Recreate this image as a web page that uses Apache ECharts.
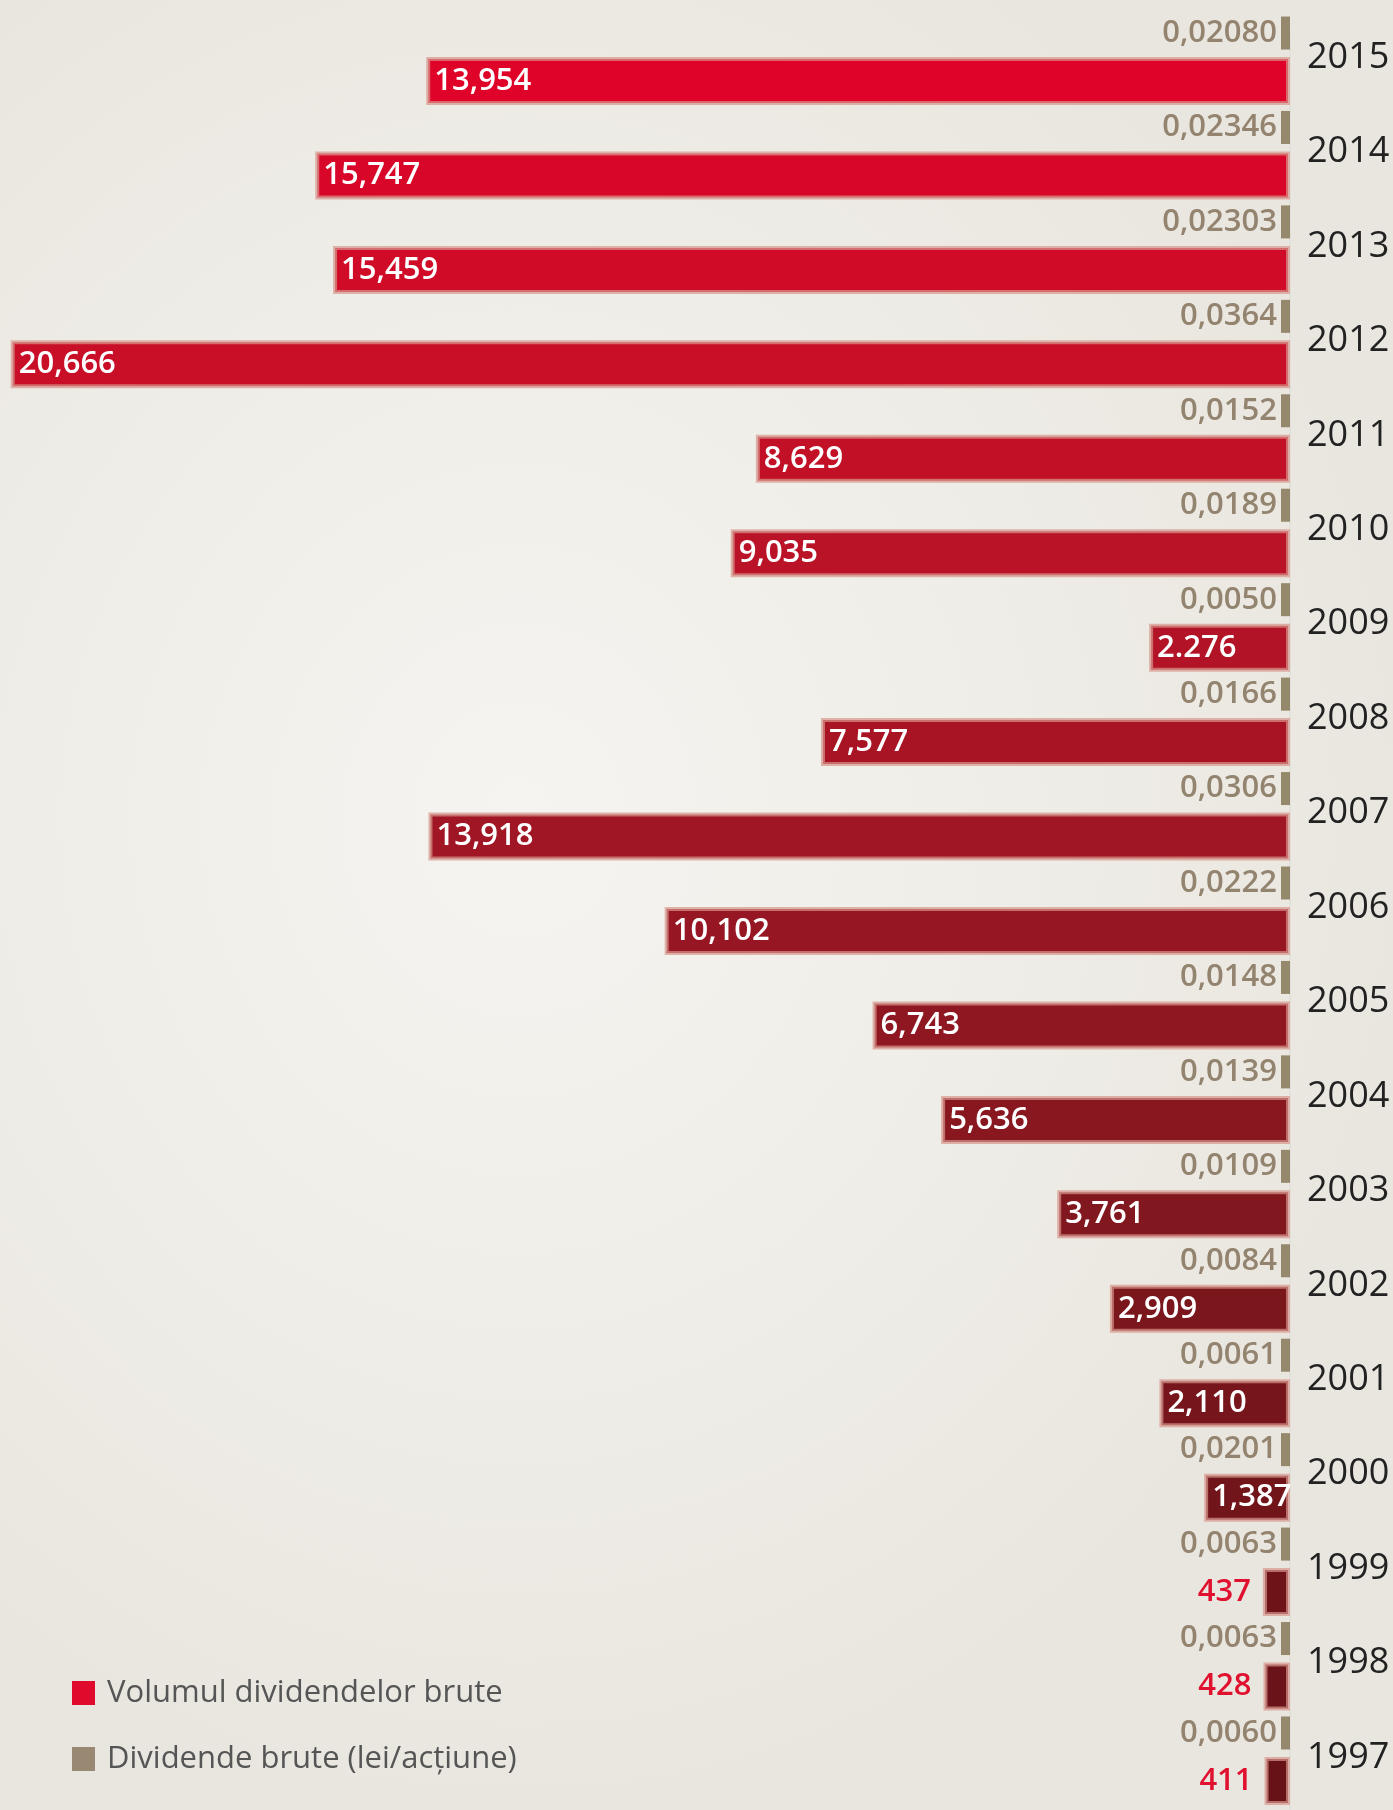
<!DOCTYPE html>
<html>
<head>
<meta charset="utf-8">
<script src="https://cdn.jsdelivr.net/npm/echarts@6/dist/echarts.min.js"></script>
<style>
  html, body {
    margin: 0;
    padding: 0;
  }
  body {
    width: 1393px;
    height: 1810px;
    background: radial-gradient(ellipse 900px 1000px at 520px 820px, #f5f4f0 0%, #efede7 55%, #e9e6df 100%);
  }
  #chart {
    width: 1393px;
    height: 1810px;
  }
</style>
</head>
<body>
<div id="chart"></div>
<script>
  // date, de sus in jos
  const years = ['2015', '2014', '2013', '2012', '2011', '2010', '2009', '2008', '2007', '2006',
    '2005', '2004', '2003', '2002', '2001', '2000', '1999', '1998', '1997']
  const volumes = [13954, 15747, 15459, 20666, 8629, 9035, 2276, 7577, 13918, 10102,
    6743, 5636, 3761, 2909, 2110, 1387, 437, 428, 411]
  const volumeLabels = ['13,954', '15,747', '15,459', '20,666', '8,629', '9,035', '2.276', '7,577', '13,918', '10,102',
    '6,743', '5,636', '3,761', '2,909', '2,110', '1,387', '437', '428', '411']
  const dividends = [0.02080, 0.02346, 0.02303, 0.0364, 0.0152, 0.0189, 0.0050, 0.0166, 0.0306, 0.0222,
    0.0148, 0.0139, 0.0109, 0.0084, 0.0061, 0.0201, 0.0063, 0.0063, 0.0060]
  const dividendLabels = ['0,02080', '0,02346', '0,02303', '0,0364', '0,0152', '0,0189', '0,0050', '0,0166', '0,0306', '0,0222',
    '0,0148', '0,0139', '0,0109', '0,0084', '0,0061', '0,0201', '0,0063', '0,0063', '0,0060']

  const nameVolume = 'Volumul dividendelor brute'
  const nameDividend = 'Dividende brute (lei/acțiune)'
  const font = '"Open Sans", "Noto Sans", sans-serif'

  // culoarea barelor trece de la rosu aprins (2015) la visiniu inchis (1997)
  const colorStops = [[0, [223, 3, 41]], [3, [201, 15, 40]], [6, [179, 19, 38]], [9, [150, 23, 35]],
    [13, [122, 23, 29]], [18, [102, 18, 23]]]
  function barColor(i) {
    for (let k = 0; k < colorStops.length - 1; ++k) {
      const a = colorStops[k]
      const b = colorStops[k + 1]
      if (i >= a[0] && i <= b[0]) {
        const t = (i - a[0]) / (b[0] - a[0])
        const c = a[1].map((v, j) => Math.round(v + (b[1][j] - v) * t))
        return 'rgb(' + c.join(',') + ')'
      }
    }
    return 'rgb(102,18,23)'
  }

  const volumeData = volumes.map((v, i) => {
    const item = {
      value: v,
      itemStyle: {color: barColor(i)}
    }
    if (v < 1000) {
      // bara prea scurta, eticheta in afara
      item.label = {position: 'left', distance: 12, color: '#e0102f'}
    }
    return item
  })
  const dividendData = dividends.map((d, i) => [0, years[i], d])

  const chart = echarts.init(document.getElementById('chart'))
  chart.setOption({
    backgroundColor: 'transparent',
    animation: false,
    grid: {
      left: 0,
      top: 33.8,
      width: 1290,
      height: 1794.4,
      outerBoundsMode: 'none'
    },
    xAxis: {
      type: 'value',
      inverse: true,
      min: 0,
      max: 20840,
      show: false
    },
    yAxis: {
      type: 'category',
      data: years,
      inverse: true,
      position: 'right',
      axisLine: {show: true, lineStyle: {color: '#e2e0da', width: 2}},
      axisTick: {show: false},
      splitLine: {show: false},
      axisLabel: {
        margin: 17,
        fontFamily: font,
        fontSize: 36,
        lineHeight: 47,
        color: '#222222',
        align: 'left',
        // anul sta intre cele doua bare, deasupra centrului categoriei
        formatter: (v) => v + '\n '
      }
    },
    legend: {
      orient: 'vertical',
      left: 67,
      top: 1672,
      itemWidth: 23,
      itemHeight: 24,
      itemGap: 34,
      textStyle: {
        fontFamily: font,
        fontSize: 31,
        lineHeight: 32,
        color: '#555555',
        padding: [0, 0, 0, 7]
      },
      data: [
        {name: nameVolume, icon: 'rect', itemStyle: {color: '#df0a2c', borderWidth: 0}},
        {name: nameDividend, icon: 'rect', itemStyle: {color: '#847156', borderWidth: 0}}
      ]
    },
    series: [
      {
        name: nameVolume,
        type: 'bar',
        barWidth: 48,
        data: volumeData,
        itemStyle: {
          borderWidth: 4,
          borderColor: 'rgba(215, 150, 140, 0.7)'
        },
        label: {
          show: true,
          position: 'insideLeft',
          distance: 8,
          fontFamily: font,
          fontSize: 31,
          fontWeight: 600,
          color: '#ffffff',
          formatter: (p) => volumeLabels[p.dataIndex]
        }
      },
      {
        name: nameDividend,
        type: 'scatter',
        data: dividendData,
        encode: {x: 0, y: 1},
        symbol: 'rect',
        symbolSize: [9, 33],
        symbolOffset: [-4.5, -48],
        itemStyle: {color: '#80704f'},
        label: {
          show: true,
          position: 'left',
          distance: 4,
          fontFamily: font,
          fontSize: 31,
          fontWeight: 600,
          color: '#7d6a52',
          formatter: (p) => dividendLabels[p.dataIndex]
        }
      }
    ]
  })
</script>
</body>
</html>
